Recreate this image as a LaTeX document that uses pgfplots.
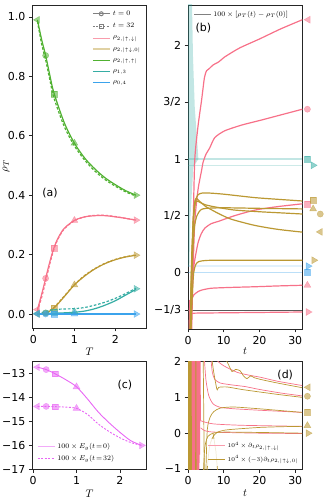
\documentclass[border=0pt]{standalone}
\usepackage{fontspec}
\setmainfont{DejaVu Sans}
\usepackage{pgfplots}
\pgfplotsset{compat=1.18}
\definecolor{cpink}{HTML}{F77189}
\definecolor{ctan}{HTML}{BB9832}
\definecolor{cgreen}{HTML}{50B131}
\definecolor{cteal}{HTML}{36ADA4}
\definecolor{cblue}{HTML}{3BA3EC}
\definecolor{cviol}{HTML}{E866F4}
\definecolor{spine}{HTML}{262626}
\pgfplotsset{
 base/.style={scale only axis, axis line style={spine, line width=0.8bp}, tick style={spine, line width=0.6bp},
   tick align=outside, major tick length=3.5bp, tick pos=left,
   ticklabel style={font=\fontsize{11}{13}\selectfont},
   label style={font=\fontsize{11}{13}\selectfont},
   legend cell align=left},
 lg/.style={legend style={draw=none, fill=none, font=\fontsize{6.7}{7.7}\selectfont, inner sep=1bp, row sep=2.6bp}},
 mkL/.style={only marks, forget plot, mark=triangle*, mark size=4bp, mark options={solid, rotate=90, draw=#1, fill=#1, opacity=0.55}},
 mkR/.style={only marks, forget plot, mark=triangle*, mark size=4bp, mark options={solid, rotate=-90, draw=#1, fill=#1, opacity=0.55}},
 mkU/.style={only marks, forget plot, mark=triangle*, mark size=4bp, mark options={solid, draw=#1, fill=#1, opacity=0.55}},
 mkC/.style={only marks, forget plot, mark=*, mark size=3.1bp, mark options={solid, draw=#1, fill=#1, opacity=0.55}},
 mkS/.style={only marks, forget plot, mark=square*, mark size=2.9bp, mark options={solid, draw=#1, fill=#1, opacity=0.55}},
 sol/.style={forget plot, #1, line width=1.2bp, smooth, tension=0.5},
 das/.style={forget plot, #1, line width=1.2bp, smooth, tension=0.5, dash pattern=on 2.6bp off 1.8bp},
 bl/.style={forget plot, #1, line width=1.2bp, smooth, tension=0.4},
 dl/.style={forget plot, #1, line width=0.7bp, smooth, tension=0.4},
}
\begin{document}
\begin{tikzpicture}
\useasboundingbox (0,0) rectangle (325bp,500bp);

% ---------------- (a)
\begin{axis}[base, lg, at={(32.3bp,172bp)}, anchor=south west, width=114.4bp, height=323bp,
 xmin=-0.025, xmax=2.76, ymin=-0.047, ymax=1.04,
 xtick={0,1,2}, xticklabels={0,1,2},
 ytick={0,0.2,0.4,0.6,0.8,1.0}, yticklabels={0.0,0.2,0.4,0.6,0.8,1.0},
 xlabel={$T$}, ylabel={$\rho_T$},
 xlabel style={at={(axis description cs:0.5,-0.074)}, anchor=center},
 ylabel style={at={(axis description cs:-0.23,0.5)}, anchor=center},
 legend style={at={(0.975,0.992)}, anchor=north east}]
\addlegendimage{gray, line width=1bp, mark=o, mark size=2bp, mark options={solid}}
\addlegendentry{$t=0$}
\addlegendimage{gray, line width=1bp, dash pattern=on 2bp off 1.5bp, mark=square, mark size=2bp, mark options={solid}}
\addlegendentry{$t=32$}
\addlegendimage{cpink!70, line width=0.8bp}
\addlegendentry{$\rho_{2,|\uparrow,\downarrow|}$}
\addlegendimage{ctan!45, line width=2bp}
\addlegendentry{$\rho_{2,|\uparrow\downarrow,0|}$}
\addlegendimage{cgreen, line width=1bp}
\addlegendentry{$\rho_{2,|\uparrow,\uparrow|}$}
\addlegendimage{cteal, line width=1bp}
\addlegendentry{$\rho_{1,3}$}
\addlegendimage{cblue, line width=1bp}
\addlegendentry{$\rho_{0,4}$}
% pink
\addplot[sol=cpink] coordinates {(0.1,0.015)(0.2,0.065)(0.3,0.12)(0.4,0.175)(0.5,0.222)(0.6,0.255)(0.75,0.288)(1.0,0.315)(1.25,0.327)(1.5,0.331)(1.75,0.331)(2.0,0.327)(2.25,0.322)(2.5,0.316)};
\addplot[das=cpink] coordinates {(0.1,0.01)(0.2,0.055)(0.3,0.11)(0.4,0.168)(0.5,0.218)(0.6,0.252)(0.75,0.286)(1.0,0.314)(1.25,0.327)(1.5,0.332)(1.75,0.332)(2.0,0.328)(2.25,0.322)(2.5,0.316)};
% tan
\addplot[sol=ctan] coordinates {(0.1,0.0)(0.3,0.003)(0.5,0.02)(0.75,0.058)(1.0,0.098)(1.25,0.128)(1.5,0.152)(1.75,0.17)(2.0,0.183)(2.25,0.192)(2.5,0.198)};
\addplot[das=ctan] coordinates {(0.1,0.0)(0.3,0.004)(0.5,0.022)(0.75,0.06)(1.0,0.099)(1.25,0.13)(1.5,0.153)(1.75,0.171)(2.0,0.184)(2.25,0.193)(2.5,0.199)};
% green
\addplot[sol=cgreen] coordinates {(0.1,0.99)(0.2,0.925)(0.3,0.87)(0.4,0.805)(0.5,0.745)(0.75,0.645)(1.0,0.575)(1.25,0.525)(1.5,0.488)(1.75,0.458)(2.0,0.435)(2.25,0.415)(2.5,0.4)};
\addplot[das=cgreen] coordinates {(0.1,0.985)(0.2,0.91)(0.3,0.855)(0.4,0.79)(0.5,0.728)(0.75,0.632)(1.0,0.566)(1.25,0.518)(1.5,0.481)(1.75,0.452)(2.0,0.43)(2.25,0.411)(2.5,0.397)};
% teal
\addplot[sol=cteal] coordinates {(0.1,0.001)(0.3,0.002)(0.5,0.003)(0.75,0.004)(1.0,0.006)(1.25,0.01)(1.5,0.018)(1.75,0.03)(2.0,0.045)(2.25,0.064)(2.5,0.083)};
\addplot[das=cteal] coordinates {(0.1,0.002)(0.3,0.008)(0.5,0.015)(0.75,0.017)(1.0,0.018)(1.25,0.022)(1.5,0.03)(1.75,0.04)(2.0,0.053)(2.25,0.069)(2.5,0.087)};
% blue
\addplot[sol=cblue] coordinates {(0.1,0)(1.0,0)(2.5,0)};
\addplot[das=cblue] coordinates {(0.1,0)(1.0,0)(2.5,0)};
% markers
\addplot[mkL=cpink] coordinates {(0.1,0.015)};
\addplot[mkC=cpink] coordinates {(0.3,0.12)};
\addplot[mkS=cpink] coordinates {(0.5,0.222)};
\addplot[mkU=cpink] coordinates {(1.0,0.315)};
\addplot[mkR=cpink] coordinates {(2.5,0.316)};
\addplot[mkL=ctan] coordinates {(0.1,0.0)};
\addplot[mkC=ctan] coordinates {(0.3,0.003)};
\addplot[mkS=ctan] coordinates {(0.5,0.02)};
\addplot[mkU=ctan] coordinates {(1.0,0.098)};
\addplot[mkR=ctan] coordinates {(2.5,0.198)};
\addplot[mkL=cgreen] coordinates {(0.1,0.99)};
\addplot[mkC=cgreen] coordinates {(0.3,0.87)};
\addplot[mkS=cgreen] coordinates {(0.5,0.74)};
\addplot[mkU=cgreen] coordinates {(1.0,0.575)};
\addplot[mkR=cgreen] coordinates {(2.5,0.40)};
\addplot[mkL=cteal] coordinates {(0.1,0.002)};
\addplot[mkC=cteal] coordinates {(0.3,0.004)};
\addplot[mkS=cteal] coordinates {(0.5,0.006)};
\addplot[mkU=cteal] coordinates {(1.0,0.008)};
\addplot[mkR=cteal] coordinates {(2.5,0.085)};
\addplot[mkL=cblue] coordinates {(0.1,0)};
\addplot[mkC=cblue] coordinates {(0.3,0)};
\addplot[mkS=cblue] coordinates {(0.5,0)};
\addplot[mkU=cblue] coordinates {(1.0,0)};
\addplot[mkR=cblue] coordinates {(2.5,0)};
\node[font=\fontsize{11}{13}\selectfont] at (rel axis cs:0.155,0.418) {(a)};
\end{axis}

% ---------------- (b)
\begin{axis}[base, lg, at={(188bp,171bp)}, anchor=south west, width=114.4bp, height=324bp,
 xmin=0, xmax=32, ymin=-0.5, ymax=2.36,
 xtick={0,10,20,30}, xticklabels={0,10,20,30},
 ytick={-0.333333,0,0.5,1,1.5,2}, yticklabels={−1/3,0,1/2,1,3/2,2},
 xlabel={$t$},
 xlabel style={at={(axis description cs:0.5,-0.068)}, anchor=center},
 legend style={at={(0.04,0.99)}, anchor=north west, font=\fontsize{7.2}{8}\selectfont}]
\addlegendimage{gray, line width=0.6bp}
\addlegendentry{$100\times[\rho_T(t)-\rho_T(0)]$}
% teal band and faint lines
\addplot[forget plot, fill=cteal, fill opacity=0.3, draw=none] coordinates {(0,2.4)(1.1,2.4)(1.4,1.9)(1.9,1.45)(2.7,1.1)(2.9,1.0)(1.5,0.93)(0.7,0.5)(0.4,0.05)(0,0.05)};
\addplot[forget plot, cteal, opacity=0.3, line width=1.5bp] coordinates {(0,1.0)(32,1.0)};
\addplot[forget plot, cteal, opacity=0.25, line width=1.5bp] coordinates {(0,0.945)(32,0.945)};
\addplot[forget plot, cblue, opacity=0.35, line width=1.3bp] coordinates {(0,0.0)(32,0.0)};
\addplot[forget plot, cblue, opacity=0.15, line width=1.3bp] coordinates {(0,0.055)(32,0.055)};
\addplot[forget plot, black!65, line width=0.9bp] coordinates {(0,-0.333333)(32,-0.333333)};
% pink
\addplot[bl=cpink] coordinates {(0.9,-0.55)(1.2,0.0)(1.5,0.5)(1.9,1.0)(2.8,1.29)(3.8,1.52)(4.6,1.72)(5.2,1.78)(6.0,1.80)(7,1.83)(8.7,1.86)(10.2,1.90)(14.4,1.98)(20,2.06)(26,2.15)(32,2.23)};
\addplot[bl=cpink] coordinates {(1.0,-0.55)(1.4,0.0)(1.9,0.45)(2.8,0.73)(3.8,0.9)(4.2,0.97)(5.0,1.04)(6.1,1.1)(7.5,1.19)(10.3,1.25)(15,1.3)(20,1.34)(26,1.39)(32,1.44)};
\addplot[bl=cpink] coordinates {(0.7,-0.55)(1.0,-0.16)(1.4,0.0)(1.9,0.11)(2.8,0.26)(3.7,0.34)(4.7,0.39)(6.5,0.43)(8.5,0.45)(13,0.5)(18.8,0.55)(25,0.58)(32,0.605)};
\addplot[bl=cpink] coordinates {(0.5,-0.55)(0.8,-0.3)(1.0,-0.245)(1.6,-0.2)(2.8,-0.17)(4,-0.155)(6.6,-0.14)(12,-0.133)(18.8,-0.127)(25,-0.12)(32,-0.114)};
\addplot[bl=cpink] coordinates {(0.3,-0.55)(0.5,-0.25)(0.7,-0.33)(1.0,-0.365)(2,-0.36)(10,-0.357)(20,-0.354)(32,-0.35)};
% tan
\addplot[bl=ctan] coordinates {(0.6,-0.55)(1.0,0.0)(1.5,0.45)(2.0,0.62)(2.8,0.685)(4,0.70)(6,0.70)(10,0.69)(18.6,0.66)(25,0.645)(32,0.63)};
\addplot[bl=ctan] coordinates {(0.6,-0.55)(1.0,0.1)(1.5,0.5)(2.0,0.64)(2.5,0.65)(3.5,0.62)(5,0.58)(7,0.545)(8.5,0.52)(12,0.47)(18.6,0.415)(25,0.38)(32,0.355)};
\addplot[bl=ctan] coordinates {(0.6,-0.55)(1.0,0.05)(1.5,0.45)(2.0,0.6)(2.5,0.63)(3.5,0.615)(5,0.595)(8,0.575)(13,0.55)(20,0.535)(26,0.525)(32,0.515)};
\addplot[bl=ctan] coordinates {(0.7,-0.55)(1.2,0.1)(1.8,0.4)(2.5,0.5)(3.5,0.55)(5,0.565)(10,0.57)(20,0.565)(32,0.56)};
\addplot[bl=ctan] coordinates {(0.8,-0.55)(1.2,-0.2)(1.6,0.0)(2.2,0.07)(3,0.095)(5,0.105)(10,0.107)(32,0.107)};
\end{axis}
% (b) markers overlay
\begin{axis}[scale only axis, hide axis, clip=false, at={(188bp,171bp)}, anchor=south west, width=114.4bp, height=324bp,
 xmin=0, xmax=32, ymin=-0.5, ymax=2.36]
\addplot[mkL=cpink] coordinates {(33.6,2.23)};
\addplot[mkC=cpink] coordinates {(33.4,1.44)};
\addplot[mkS=cpink] coordinates {(33.4,0.605)};
\addplot[mkU=cpink] coordinates {(33.4,-0.114)};
\addplot[mkR=cpink] coordinates {(33.6,-0.35)};
\addplot[mkS=ctan] coordinates {(35.0,0.637)};
\addplot[mkU=ctan] coordinates {(35.0,0.56)};
\addplot[mkC=ctan] coordinates {(37.0,0.515)};
\addplot[mkL=ctan] coordinates {(37.0,0.357)};
\addplot[mkR=ctan] coordinates {(35.2,0.107)};
\addplot[mkS=cteal] coordinates {(33.4,1.0)};
\addplot[mkR=cteal] coordinates {(35.0,0.945)};
\addplot[mkR=cblue] coordinates {(33.6,0.055)};
\addplot[mkS=cblue] coordinates {(33.4,0.0)};
\node[font=\fontsize{11}{13}\selectfont] at (rel axis cs:0.134,0.928) {(b)};
\end{axis}

% ---------------- (c)
\begin{axis}[base, at={(32.3bp,30.7bp)}, anchor=south west, width=114.4bp, height=107.6bp,
 xmin=-0.02, xmax=2.62, ymin=-17, ymax=-12.5,
 xtick={0,1,2}, xticklabels={0,1,2},
 ytick={-17,-16,-15,-14,-13}, yticklabels={−17,−16,−15,−14,−13},
 xlabel={$T$},
 xlabel style={at={(axis description cs:0.5,-0.23)}, anchor=center},
 legend style={draw=none, fill=none, font=\fontsize{7}{8}\selectfont, inner sep=1bp, row sep=1.5bp, at={(0.03,0.04)}, anchor=south west}]
\addlegendimage{cviol!55, line width=1.4bp}
\addlegendentry{$100\times E_g(t\!=\!0)$}
\addlegendimage{cviol, line width=0.9bp, dash pattern=on 2bp off 1.5bp}
\addlegendentry{$100\times E_g(t\!=\!32)$}
\addplot[forget plot, cviol, line width=0.9bp, smooth, tension=0.5] coordinates {(0.1,-12.73)(0.3,-12.83)(0.5,-13.0)(0.75,-13.25)(1.0,-13.55)(1.25,-14.05)(1.5,-14.6)(1.75,-15.05)(2.0,-15.45)(2.25,-15.8)(2.5,-16.0)};
\addplot[forget plot, cviol, line width=0.9bp, smooth, tension=0.5, dash pattern=on 2bp off 1.5bp] coordinates {(0.1,-14.37)(0.3,-14.37)(0.5,-14.38)(0.75,-14.4)(1.0,-14.45)(1.25,-14.7)(1.5,-15.1)(1.75,-15.42)(2.0,-15.68)(2.25,-15.88)(2.5,-16.0)};
\addplot[mkL=cviol] coordinates {(0.1,-12.73)(0.1,-14.37)};
\addplot[mkC=cviol] coordinates {(0.3,-12.83)(0.3,-14.37)};
\addplot[mkS=cviol] coordinates {(0.5,-13.0)(0.5,-14.38)};
\addplot[mkU=cviol] coordinates {(1.0,-13.55)(1.0,-14.45)};
\addplot[mkR=cviol] coordinates {(2.5,-16.0)};
\node[font=\fontsize{11}{13}\selectfont] at (rel axis cs:0.81,0.78) {(c)};
\end{axis}

% ---------------- (d)
\begin{axis}[base, at={(188bp,31bp)}, anchor=south west, width=114.4bp, height=107.5bp,
 xmin=0, xmax=32, ymin=-1, ymax=2,
 xtick={0,10,20,30}, xticklabels={0,10,20,30},
 ytick={-1,0,1,2}, yticklabels={−1,0,1,2},
 xlabel={$t$},
 xlabel style={at={(axis description cs:0.5,-0.224)}, anchor=center},
 legend style={fill=white, fill opacity=0.8, text opacity=1, draw=none, font=\fontsize{6.2}{7}\selectfont, inner sep=1bp, row sep=2bp, at={(0.99,0.03)}, anchor=south east}]
\addlegendimage{cpink!70, line width=1bp}
\addlegendentry{$10^4\times\partial_t\rho_{2,|\uparrow,\downarrow|}$}
\addlegendimage{ctan, line width=0.8bp}
\addlegendentry{$10^4\times(-3)\partial_t\rho_{2,|\uparrow\downarrow,0|}$}
% oscillating start
\addplot[forget plot, cpink, line width=0.7bp] coordinates {(0,2.6)(0.1,-1.6)(0.2,2.6)(0.3,-1.6)(0.4,2.6)(0.5,-1.6)(0.6,2.6)(0.7,-1.6)(0.8,2.6)(0.9,-1.6)(1.0,2.6)(1.1,-1.6)(1.2,2.6)(1.3,-1.6)(1.4,2.6)(1.5,-1.6)(1.6,2.6)(1.7,-1.6)(1.8,2.6)(1.9,-1.6)(2.0,2.6)(2.1,-1.6)(2.2,2.6)(2.3,-1.6)(2.4,2.6)(2.5,-1.6)(2.6,2.6)(2.7,-1.6)(2.8,2.6)(2.9,-1.6)(3.0,2.6)(3.1,-1.6)(3.2,2.6)(3.3,-0.6)(3.4,2.6)(3.5,0.35)};
\addplot[forget plot, ctan, line width=0.7bp] coordinates {(0,-1.6)(0.1,2.6)(0.2,-1.6)(0.3,2.6)(0.4,-1.6)(0.5,2.6)(0.6,-1.6)(0.7,2.6)(0.8,-1.6)(0.9,2.6)(1.0,-1.6)};
\addplot[forget plot, ctan, line width=0.7bp] coordinates {(2.1,-1.6)(2.2,2.6)(2.3,-1.6)};
\addplot[forget plot, ctan, line width=0.7bp] coordinates {(4.2,2.6)(4.4,0.6)(4.6,-1.6)};
\addplot[forget plot, ctan, line width=0.7bp] coordinates {(7.0,0.0)(7.8,-0.5)(8.4,-1.2)};
% curves
\addplot[dl=cpink] coordinates {(7.5,2.2)(8.1,2.03)(10,1.88)(13.7,1.70)(17,1.62)(20.3,1.56)(25,1.45)(31.9,1.33)};
\addplot[dl=ctan] coordinates {(9.5,2.2)(10.9,2.0)(12.3,1.72)(13.3,1.78)(14.6,1.74)(15.5,1.6)(16.5,1.52)(17.5,1.6)(18.5,1.55)(20.3,1.5)(25,1.4)(31.9,1.27)};
\addplot[dl=cpink] coordinates {(6.3,2.2)(6.8,1.7)(7.5,1.5)(9,1.4)(12,1.35)(16,1.3)(20,1.22)(26,1.12)(31.9,1.04)};
\addplot[dl=ctan] coordinates {(6.5,2.2)(7.2,1.7)(8.1,1.22)(8.6,1.28)(10.9,1.29)(15,1.22)(20,1.15)(26,1.07)(31.9,1.0)};
\addplot[dl=cpink] coordinates {(4.5,2.2)(5.0,1.5)(5.8,1.05)(7,0.82)(9,0.72)(13,0.68)(20,0.64)(26,0.61)(31.9,0.58)};
\addplot[dl=ctan] coordinates {(5.0,-1.1)(5.4,0.1)(6.2,0.45)(7.2,0.6)(9,0.7)(12.8,0.73)(20,0.68)(26,0.63)(31.9,0.58)};
\addplot[dl=cpink] coordinates {(3.5,0.35)(5,0.3)(7,0.26)(10,0.24)(15,0.22)(20,0.21)(26,0.2)(31.9,0.19)};
\addplot[dl=ctan] coordinates {(5.3,-1.1)(5.8,-0.55)(6.2,-0.3)(7,-0.1)(8.1,0.02)(10,0.08)(12.8,0.11)(20,0.16)(26,0.18)(31.9,0.19)};
\addplot[dl=cpink] coordinates {(3.5,0.15)(4.5,0.08)(6,0.04)(10,0.02)(20,0.0)(31.9,-0.01)};
\addplot[dl=ctan] coordinates {(4.3,-1.1)(4.7,-0.4)(5.5,-0.1)(7,0.0)(10,0.03)(20,0.02)(31.9,0.0)};
\node[font=\fontsize{11}{13}\selectfont] at (rel axis cs:0.85,0.87) {(d)};
\end{axis}
\begin{axis}[scale only axis, hide axis, clip=false, at={(188bp,31bp)}, anchor=south west, width=114.4bp, height=107.5bp,
 xmin=0, xmax=32, ymin=-1, ymax=2]
\addplot[mkL=ctan] coordinates {(33.6,1.28)};
\addplot[mkC=ctan] coordinates {(33.4,1.03)};
\addplot[mkS=ctan] coordinates {(33.4,0.59)};
\addplot[mkU=ctan] coordinates {(33.4,0.21)};
\addplot[mkR=ctan] coordinates {(33.6,0.0)};
\end{axis}
\end{tikzpicture}
\end{document}
